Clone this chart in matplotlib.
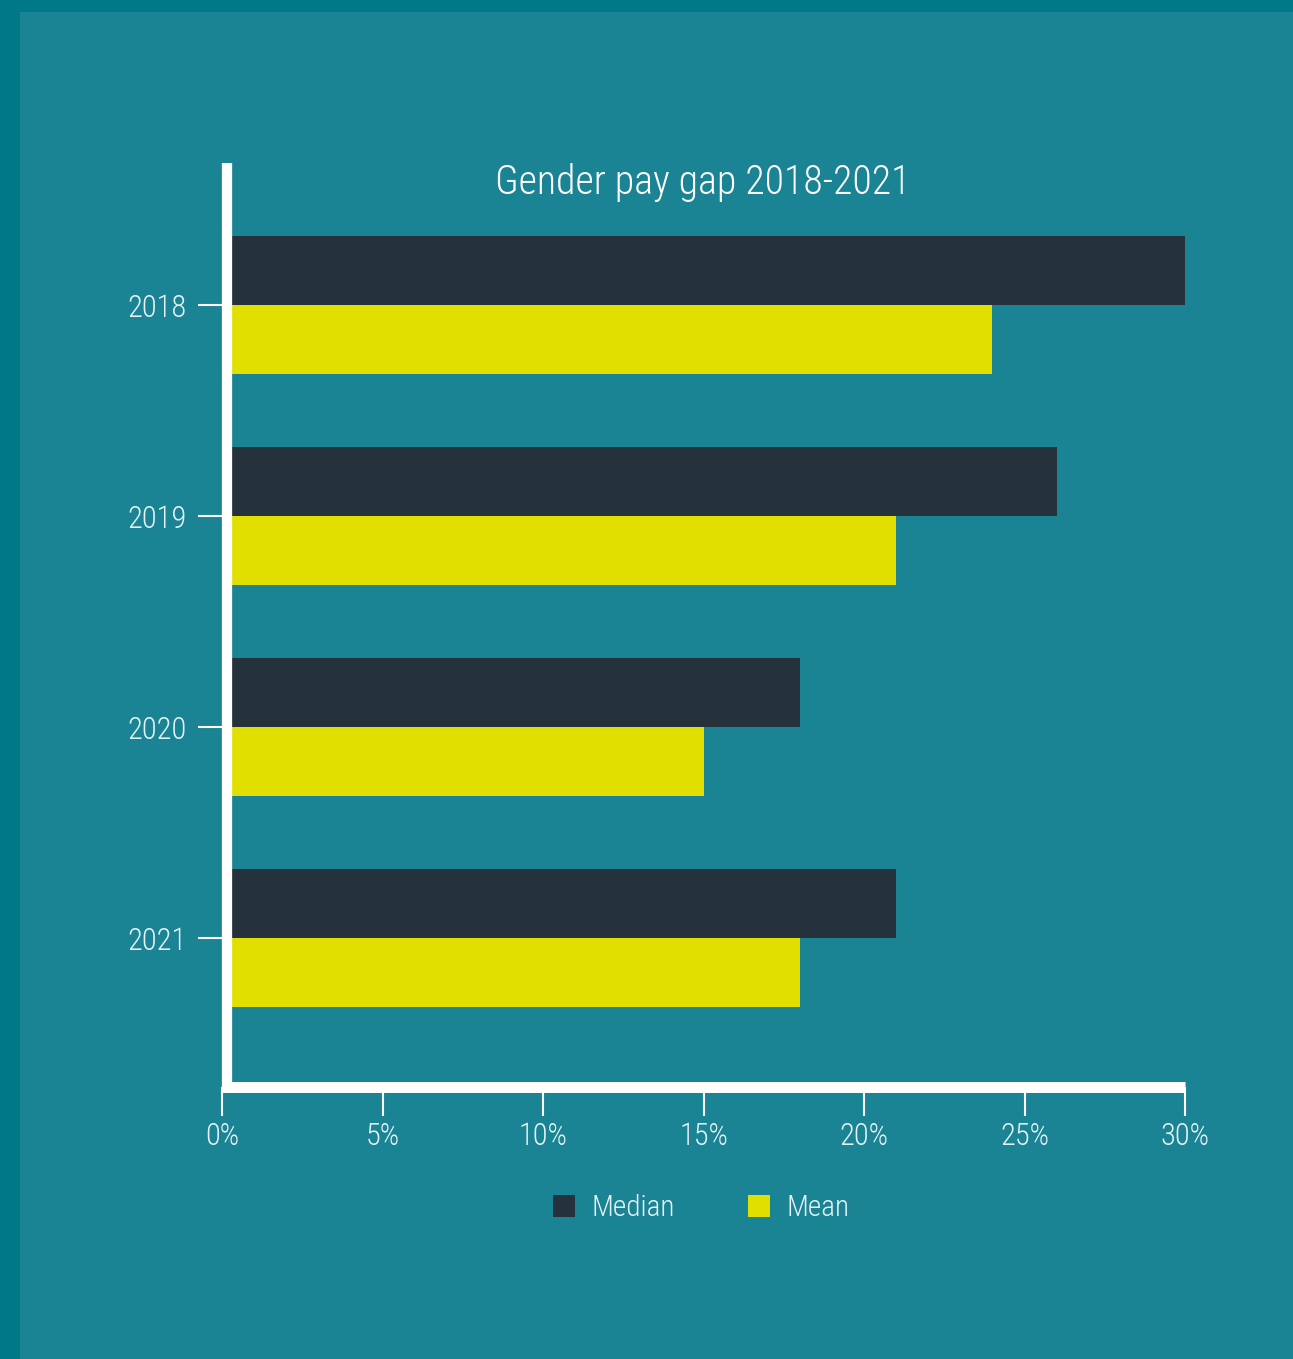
import matplotlib
matplotlib.use("Agg")
import matplotlib.pyplot as plt
from matplotlib.patches import Rectangle, Patch
from matplotlib import font_manager
import numpy as np

years = ["2018", "2019", "2020", "2021"]
median = [30, 26, 18, 21]
mean = [24, 21, 15, 18]
xticks = [0, 5, 10, 15, 20, 25, 30]
xticklabels = ["0%", "5%", "10%", "15%", "20%", "25%", "30%"]
title = "Gender pay gap 2018-2021"

BORDER = "#007887"
BG = "#1A8494"
DARK = "#25313B"
YELLOW = "#E0DF00"
TXT = "#E6F3F4"

available = {f.name for f in font_manager.fontManager.ttflist}
family = "DejaVu Sans"
for cand in ["Roboto Condensed", "Liberation Sans Narrow", "Open Sans Condensed", "Roboto"]:
    if cand in available:
        family = cand
        break
light_ok = any(f.name == family and f.weight in (300, "light") for f in font_manager.fontManager.ttflist)
WEIGHT = "light" if light_ok else "normal"
condensed = family != "Roboto" and family != "DejaVu Sans"
scale = 1.0 if condensed else 0.82

plt.rcParams['font.family'] = [family, 'DejaVu Sans']
plt.rcParams['font.weight'] = WEIGHT

W, H = 1293, 1359
fig = plt.figure(figsize=(W / 100, H / 100), dpi=100, facecolor=BORDER)
fig.patches.append(Rectangle((20 / W, 0), 1 - 20 / W, (H - 12) / H,
                             transform=fig.transFigure, facecolor=BG,
                             edgecolor="none", zorder=-10))

ax = fig.add_axes([222 / W, (H - 1087) / H, (1185 - 222) / W, (1087 - 163) / H])
ax.set_facecolor("none")
ax.set_zorder(1)

y = np.arange(len(years))
h = 0.325
ax.barh(y - h / 2, median, height=h, color=DARK, label="Median", zorder=1)
ax.barh(y + h / 2, mean, height=h, color=YELLOW, label="Mean", zorder=1)

ax.set_xlim(0, 30)
ax.set_ylim(3.706, -0.673)

for s in ["top", "right"]:
    ax.spines[s].set_visible(False)
ax.spines["left"].set_color("white")
ax.spines["left"].set_linewidth(7.4)
ax.spines["left"].set_position(("outward", -3.6))
ax.spines["bottom"].set_color("white")
ax.spines["bottom"].set_linewidth(7.9)
for s in ["left", "bottom"]:
    ax.spines[s].set_zorder(3)
    ax.spines[s].set_capstyle("butt")

ax.set_yticks(y)
ax.set_yticklabels(years)
ax.set_xticks(xticks)
ax.set_xticklabels(xticklabels)
ax.tick_params(axis="y", length=21, width=1.5, color="white", pad=8,
               labelsize=22 * scale, labelcolor=TXT)
ax.tick_params(axis="x", length=21, width=1.5, color="white", pad=4,
               labelsize=22 * scale, labelcolor=TXT)

fig.text(703 / W, (H - 182) / H, title, ha="center", va="center",
         fontsize=28.7 * scale, color="white")

handles = [Patch(facecolor=DARK, edgecolor="none", label="Median"),
           Patch(facecolor=YELLOW, edgecolor="none", label="Mean")]
leg = fig.legend(handles=handles, loc="center", bbox_to_anchor=(701 / W, (H - 1208) / H),
                 ncol=2, frameon=False, fontsize=21 * scale, handlelength=0.78 / scale,
                 handleheight=0.78 / scale, handletextpad=0.55 / scale, columnspacing=2.5 / scale)
for t in leg.get_texts():
    t.set_color(TXT)

fig.savefig("out.png", dpi=100, facecolor=BORDER)
